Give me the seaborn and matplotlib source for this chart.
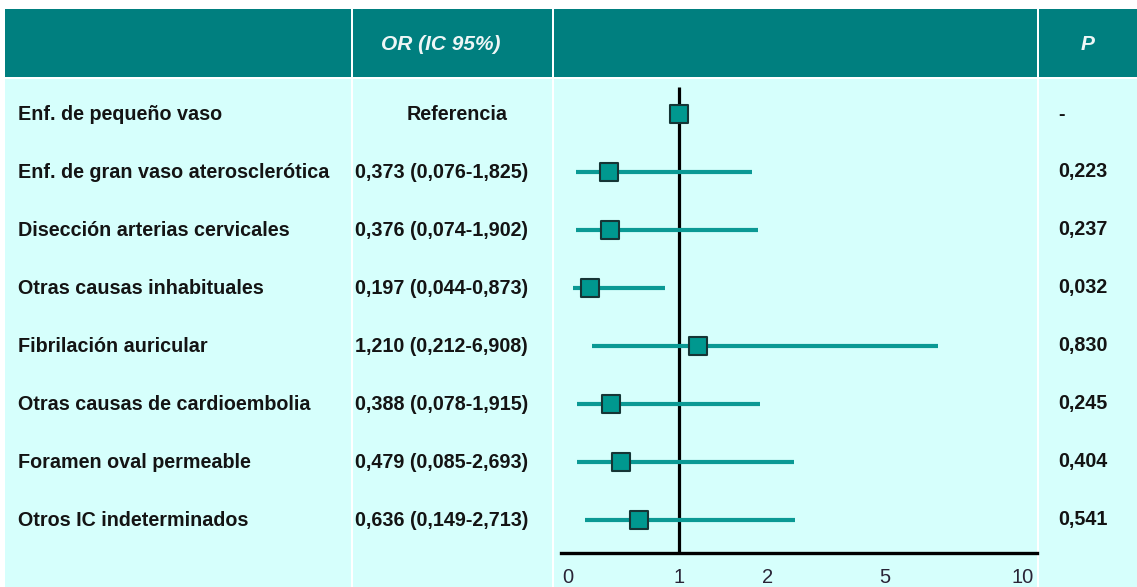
import numpy as np
import matplotlib
matplotlib.use("Agg")
import matplotlib.pyplot as plt
from matplotlib.patches import Rectangle
import seaborn as sns

# ---- data -------------------------------------------------------------
categories = [
    "Enf. de pequeño vaso",
    "Enf. de gran vaso aterosclerótica",
    "Disección arterias cervicales",
    "Otras causas inhabituales",
    "Fibrilación auricular",
    "Otras causas de cardioembolia",
    "Foramen oval permeable",
    "Otros IC indeterminados",
]
odds_ratio = [1.0, 0.373, 0.376, 0.197, 1.210, 0.388, 0.479, 0.636]
ci_low = [np.nan, 0.076, 0.074, 0.044, 0.212, 0.078, 0.085, 0.149]
ci_high = [np.nan, 1.825, 1.902, 0.873, 6.908, 1.915, 2.693, 2.713]
p_values = ["-", "0,223", "0,237", "0,032", "0,830", "0,245", "0,404", "0,541"]
reference_label = "Referencia"
x_ticks = [0, 1, 2, 5, 10]

# ---- style ------------------------------------------------------------
sns.set_style("white")
plt.rcParams["font.family"] = ["Liberation Sans", "DejaVu Sans"]

HEADER = "#007f7f"
BODY = "#d6fffc"
LINE_C = "#0b9994"
MARK_C = "#00988f"
EDGE_C = "#163535"
TXT = "#141414"

W, H = 1137, 587
fig = plt.figure(figsize=(W / 100, H / 100), dpi=100)

# background table drawn in pixel coordinates
bg = fig.add_axes([0, 0, 1, 1])
bg.set_xlim(0, W)
bg.set_ylim(H, 0)
bg.axis("off")

col_edges = [5, 352, 553, 1038, W + 2]
gap = 2
for i in range(len(col_edges) - 1):
    x0 = col_edges[i] + (gap / 2 if i else 0)
    x1 = col_edges[i + 1] - gap / 2
    bg.add_patch(Rectangle((x0, 9), x1 - x0, 68, facecolor=HEADER, lw=0))
    bg.add_patch(Rectangle((x0, 79), x1 - x0, H - 79 + 2, facecolor=BODY, lw=0))

bg.text(441, 44, "OR (IC 95%)", ha="center", va="center", fontsize=15,
        fontweight="bold", fontstyle="italic", color="#eef6f6")
bg.text(1088, 45, "P", ha="center", va="center", fontsize=15,
        fontweight="bold", fontstyle="italic", color="#eef6f6")

row0, row_step = 114, 58
for i, name in enumerate(categories):
    y = row0 + row_step * i
    bg.text(18, y, name, ha="left", va="center", fontsize=14.2,
            fontweight="bold", color=TXT)
    if np.isnan(ci_low[i]):
        bg.text(457, y, reference_label, ha="center", va="center",
                fontsize=14.2, fontweight="bold", color=TXT)
    else:
        fmt = lambda v: f"{v:.3f}".replace(".", ",")
        label = f"{fmt(odds_ratio[i])} ({fmt(ci_low[i])}-{fmt(ci_high[i])})"
        bg.text(355, y, label, ha="left", va="center", fontsize=14.2,
                fontweight="bold", color=TXT)
    bg.text(1058, y, p_values[i], ha="left", va="center", fontsize=14.2,
            fontweight="bold", color=TXT)

# ---- forest plot axes ---------------------------------------------------
# piecewise-linear OR axis: 0, 1, 2, 5, 10 at uneven spacing
knot_v = np.array([-10.0, 0, 1, 2, 5, 10, 100])
knot_u = np.array([-10.0, 0, 1, 1.793, 2.856, 4.099, 4.099 + 90 * 1.243 / 5])


def fwd(v):
    return np.interp(v, knot_v, knot_u)


def inv(u):
    return np.interp(u, knot_u, knot_v)


ax_l, ax_r, ax_t, ax_b = 553, 1038, 79, 553
ax = fig.add_axes([ax_l / W, 1 - ax_b / H, (ax_r - ax_l) / W, (ax_b - ax_t) / H])
ax.set_facecolor("none")
ax.set_xscale("function", functions=(fwd, inv))
ax.set_xlim(-0.135, 10.54)
rows = np.arange(len(categories))
ax.set_ylim((ax_b - row0) / row_step, -(row0 - ax_t) / row_step)

for s in ["top", "left", "right"]:
    ax.spines[s].set_visible(False)
ax.spines["bottom"].set_linewidth(2.4)
ax.spines["bottom"].set_color("black")
ax.spines["bottom"].set_bounds(-0.063, 10.5)

ax.vlines(1, -(row0 - 87) / row_step, (ax_b - row0) / row_step,
          color="black", lw=2.3, zorder=2)
ax.hlines(rows, ci_low, ci_high, color=LINE_C, lw=3.0, zorder=3)
sns.scatterplot(x=odds_ratio, y=rows, marker="s", s=175, color=MARK_C,
                edgecolor=EDGE_C, linewidth=1.5, zorder=4, ax=ax, legend=False)

ax.set_xticks(x_ticks)
ax.set_xticklabels([str(t) for t in x_ticks])
ax.xaxis.set_minor_locator(matplotlib.ticker.NullLocator())
ax.tick_params(axis="x", length=0, pad=11, labelsize=14.5, labelcolor="#2a2436")
ax.set_yticks([])
ax.set_xlabel("")
ax.set_ylabel("")

fig.savefig("out.png", dpi=100)
